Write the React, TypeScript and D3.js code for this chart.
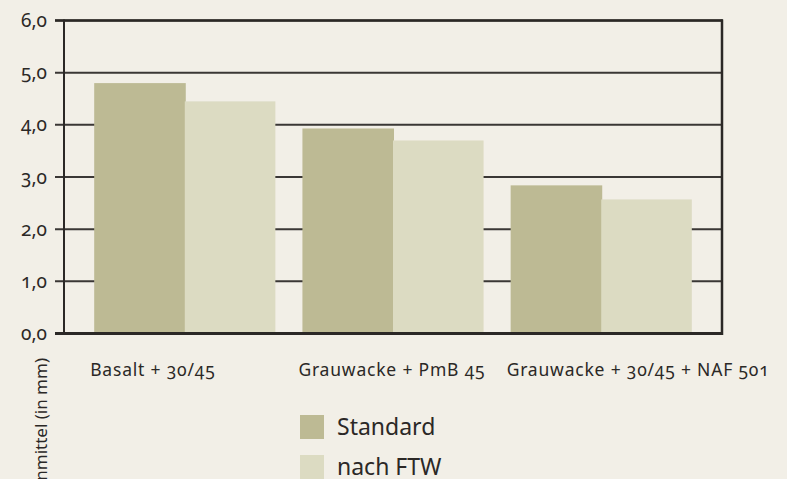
import React from "react";
import * as d3 from "d3";

const categories = ["Basalt + 30/45", "Grauwacke + PmB 45", "Grauwacke + 30/45 + NAF 501"];
const seriesNames = ["Standard", "nach FTW"];
const standardValues = [4.8, 3.93, 2.84];
const ftwValues = [4.45, 3.7, 2.57];
const yTicks = [0, 1, 2, 3, 4, 5, 6];
const yTickLabels = ["0,0", "1,0", "2,0", "3,0", "4,0", "5,0", "6,0"];
const yTitle = "Spurrinnentiefenmittel (in mm)";

const W = 787;
const H = 479;
const left = 64;
const right = 722;
const top = 20.5;
const bottom = 333.5;
const BG = "#f2efe7";
const colors = ["#bdba94", "#dcdbc2"];
const FONT = "'Noto Sans', sans-serif";

export default function App() {
  const x = d3.scaleBand<string>().domain(categories).range([left, right]).paddingInner(0.13).paddingOuter(0.145);
  const inner = d3.scaleBand<string>().domain(seriesNames).range([0, x.bandwidth()]);
  const y = d3.scaleLinear().domain([0, 6]).range([bottom, top]);
  const series = [standardValues, ftwValues];

  return (
    <svg width={W} height={H} style={{ position: "absolute", left: 0, top: 0, background: BG, fontFamily: FONT, fontFeatureSettings: "'onum' 1", fontVariantNumeric: "oldstyle-nums" }}>
      <rect x={0} y={0} width={W} height={H} fill={BG} />
      {yTicks.map((t) => (
        <line key={"g" + t} x1={55} x2={right} y1={y(t)} y2={y(t)} stroke="#3a3735" strokeWidth={t === 0 ? 3 : 2} />
      ))}
      {series.map((vals, si) =>
        categories.map((c, ci) => (
          <rect
            key={si + "-" + ci}
            x={(x(c) as number) + (inner(seriesNames[si]) as number)}
            width={inner.bandwidth() + (si === 0 ? 1 : 0)}
            y={y(vals[ci])}
            height={y(0) - y(vals[ci]) - 1}
            fill={colors[si]}
          />
        ))
      )}
      <line x1={left} x2={left} y1={top - 1} y2={bottom + 1} stroke="#2b2826" strokeWidth={2} />
      <line x1={right} x2={right} y1={top - 1} y2={bottom + 1.5} stroke="#2b2826" strokeWidth={2.5} />
      <line x1={55} x2={right + 1} y1={bottom} y2={bottom} stroke="#2b2826" strokeWidth={3} />
      <line x1={55} x2={right + 1} y1={top} y2={top} stroke="#2b2826" strokeWidth={2.5} />
      {yTicks.map((t, i) => (
        <text key={"t" + t} x={47} y={y(t) + 6.5} textAnchor="end" fontSize={19} fill="#2b2826">
          {yTickLabels[i]}
        </text>
      ))}
      {categories.map((c) => (
        <text key={c} x={(x(c) as number) - 4} y={376} fontSize={17.5} letterSpacing={0.8} fill="#2b2826">
          {c}
        </text>
      ))}
      <text transform={`translate(47,358) rotate(-90)`} textAnchor="end" fontSize={17} fill="#2b2826">
        {yTitle}
      </text>
      {seriesNames.map((s, i) => (
        <g key={s} transform={`translate(300,${415 + i * 40})`}>
          <rect x={0} y={0} width={24} height={24} fill={colors[i]} />
          <text x={37} y={20} fontSize={23} fill="#2b2826">
            {s}
          </text>
        </g>
      ))}
    </svg>
  );
}
